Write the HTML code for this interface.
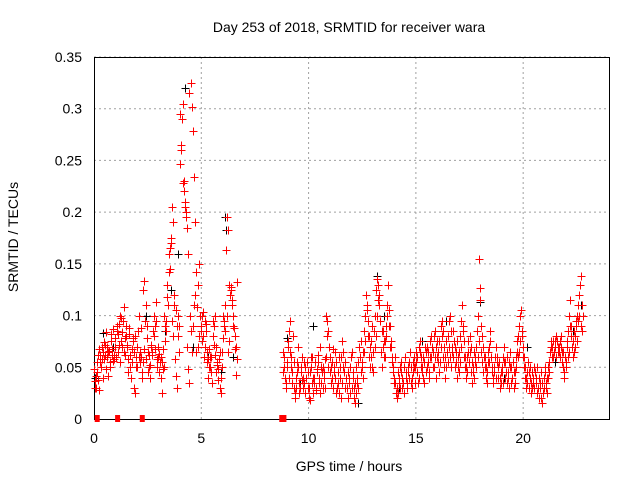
<!DOCTYPE html>
<html><head><meta charset="utf-8"><style>
body{margin:0;background:#fff}
svg{display:block;font-family:"Liberation Sans",sans-serif}
</style></head><body>
<svg id="chart" width="640" height="480">
<rect width="640" height="480" fill="#fff"/>
<g id="grid"></g>
<g id="axes"></g>
<g id="black"></g>
<g id="red"></g>
<text x="349" y="32" text-anchor="middle" font-size="14" fill="#000">Day 253 of 2018, SRMTID for receiver wara</text>
<text x="349" y="471" text-anchor="middle" font-size="14" fill="#000">GPS time / hours</text>
<text transform="translate(18,237) rotate(-90)" text-anchor="middle" font-size="14" fill="#000">SRMTID / TECUs</text>
</svg>
<script>
const xTicks=[0,5,10,15,20];
const yTicks=[0,0.05,0.1,0.15,0.2,0.25,0.3,0.35];
const yTickLabels=["0","0.05","0.1","0.15","0.2","0.25","0.3","0.35"];
const step=0.05;
const redStarts=[0,1,2,3,4,5,6,8.8,9.8,10.8,11.8,12.8,13.8,14.8,15.8,16.8,17.8,18.8,19.8,20.8,21.8];
const redLayer1=[
[.048,.037,.03,.045,.062,.028,.055,.07,.065,.058,.072,.084,.06,.042,.066,.05,.075,.062,.087,.058],
[.078,.085,.065,.092,.1,.075,.07,.095,.108,.062,.08,.072,.058,.088,.05,.068,.075,.03,.025,.06],
[.07,.085,.1,.055,.06,.045,.125,.133,.11,.09,.065,.05,.04,.07,.062,.085,.1,.09,.113,.058],
[.07,.063,.04,.055,.068,.05,.09,.095,.13,.11,.16,.145,.175,.205,.19,.12,.105,.09,.08,.065],
[.247,.265,.29,.305,.23,.21,.2,.185,.16,.315,.325,.302,.278,.234,.19,.142,.108,.13,.15,.1],
[.09,.075,.103,.095,.085,.065,.058,.05,.06,.045,.035,.08,.09,.1,.07,.055,.048,.03,.025,.065],
[.1,.095,.11,.163,.195,.183,.13,.12,.125,.115,.09,.08,.07,.132],
[.065,.05,.04,.035,.055,.07,.085,.095,.06,.045,.03,.025,.04,.055,.05,.035,.03,.045,.06,.04],
[.035,.05,.04,.03,.02,.045,.06,.035,.025,.04,.055,.03,.048,.062,.04,.025,.035,.05,.045,.03],
[.1,.095,.085,.07,.06,.05,.04,.03,.045,.065,.055,.035,.025,.05,.06,.075,.065,.045,.03,.04],
[.03,.02,.04,.05,.065,.04,.03,.015,.025,.035,.055,.07,.06,.045,.05,.065,.085,.1,.11,.095],
[.08,.07,.06,.05,.065,.085,.1,.125,.135,.13,.11,.095,.085,.07,.06,.075,.09,.11,.13,.105],
[.09,.075,.06,.05,.04,.035,.03,.025,.04,.05,.045,.03,.035,.05,.06,.04,.035,.045,.055,.05],
[.04,.055,.06,.05,.065,.045,.035,.07,.075,.06,.05,.04,.055,.065,.07,.055,.045,.06,.08,.07],
[.065,.08,.085,.07,.06,.055,.075,.09,.095,.085,.07,.06,.05,.065,.08,.095,.1,.085,.07,.06],
[.07,.055,.04,.05,.065,.08,.095,.11,.09,.075,.06,.05,.045,.065,.08,.07,.055,.045,.04,.06],
[.07,.085,.1,.155,.127,.09,.08,.07,.06,.05,.045,.055,.07,.085,.06,.05,.04,.045,.06,.07],
[.06,.05,.04,.035,.045,.06,.07,.055,.045,.035,.04,.055,.065,.05,.04,.03,.045,.06,.075,.08],
[.09,.1,.105,.085,.07,.06,.05,.04,.035,.045,.05,.035,.03,.04,.05,.045,.035,.025,.03,.04],
[.03,.02,.015,.03,.045,.035,.025,.04,.055,.065,.075,.07,.06,.065,.075,.08,.07,.065,.075,.07],
[.065,.05,.045,.06,.055,.07,.085,.1,.115,.09,.075,.065,.08,.095,.1,.11,.12,.13,.138,.11]];
const redLayer2=[
[.03,.042,.055,.038,.068,.062,.05,.058,.04,.074,.062,.048,.07,.065,.055,.082,.068,.056,.062,.07],
[.06,.09,.082,.072,.055,.098,.084,.065,.078,.09,.07,.045,.082,.062,.04,.055,.078,.065,.08,.05],
[.05,.06,.065,.088,.04,.055,.068,.095,.058,.078,.045,.062,.052,.072,.065,.08,.068,.095,.05,.06],
[.045,.055,.06,.025,.048,.1,.075,.085,.118,.142,.165,.17,.095,.08,.11,.058,.042,.03,.1,.09],
[.295,.26,.228,.22,.205,.195,.07,.048,.035,.1,.085,.065,.09,.11,.12,.065,.07,.08,.1,.085],
[.1,.08,.06,.07,.092,.055,.04,.068,.05,.06,.095,.072,.062,.045,.052,.038,.058,.065,.04,.05],
[.078,.09,.085,.1,.065,.075,.12,.128,.11,.1,.088,.068,.043,.058],
[.045,.06,.03,.05,.075,.04,.065,.05,.035,.08,.055,.02,.03,.045,.07,.025,.05,.038,.03,.055],
[.025,.04,.055,.045,.03,.018,.05,.06,.04,.035,.028,.045,.055,.035,.07,.05,.045,.03,.04,.058],
[.06,.08,.05,.045,.035,.055,.068,.05,.04,.025,.03,.045,.06,.04,.02,.035,.05,.055,.04,.03],
[.045,.035,.025,.06,.03,.045,.02,.035,.05,.04,.03,.06,.075,.055,.04,.065,.075,.12,.105,.08],
[.06,.05,.075,.09,.045,.07,.08,.1,.115,.12,.095,.065,.05,.085,.075,.06,.08,.1,.09,.07],
[.07,.055,.045,.035,.06,.025,.02,.045,.035,.03,.055,.04,.025,.06,.045,.03,.05,.04,.065,.035],
[.03,.045,.05,.035,.055,.06,.04,.065,.05,.045,.06,.035,.07,.045,.05,.065,.04,.075,.06,.05],
[.05,.06,.04,.075,.065,.045,.055,.07,.08,.06,.05,.04,.075,.055,.07,.06,.05,.065,.085,.075],
[.05,.065,.075,.06,.045,.055,.07,.085,.06,.05,.04,.06,.075,.055,.065,.045,.035,.05,.065,.055],
[.05,.06,.075,.115,.065,.055,.045,.06,.05,.04,.035,.065,.055,.075,.045,.035,.05,.06,.04,.055],
[.04,.055,.03,.045,.05,.035,.055,.04,.06,.045,.03,.05,.035,.04,.055,.045,.035,.05,.065,.06],
[.065,.075,.08,.06,.05,.04,.03,.045,.055,.03,.04,.025,.045,.035,.03,.04,.05,.03,.02,.035],
[.045,.035,.025,.04,.05,.03,.04,.05,.045,.07,.06,.075,.065,.07,.06,.075,.065,.07,.06,.08],
[.055,.065,.04,.05,.075,.06,.065,.09,.08,.07,.06,.085,.07,.09,.075,.095,.1,.09,.085,.1]];
const blackTimes=[0.05,0.4,0.9,1.5,2.4,3.3,3.6,3.9,4.05,4.25,4.3,4.6,5.3,5.9,6.1,6.15,6.5,9.0,9.6,10.2,11.4,12.3,13.2,13.5,14.2,15.3,16.4,17.3,18.0,19.1,20.2,21.5,22.3,22.7];
const blackValues=[0.04,0.083,0.07,0.09,0.1,0.085,0.125,0.16,0.26,0.32,0.2,0.07,0.06,0.045,0.195,0.183,0.06,0.078,0.035,0.09,0.06,0.015,0.138,0.1,0.03,0.075,0.095,0.06,0.113,0.04,0.07,0.055,0.085,0.11];
const zeroTimes=[0.15,1.1,2.25,8.75,8.85];

const X0=94,X1=609,Y0=419,Y1=57;
const xs=t=>X0+t/24*(X1-X0);
const ys=v=>Y0-v/0.35*(Y0-Y1);
const NS="http://www.w3.org/2000/svg";
function mk(tag,attrs,parent){const e=document.createElementNS(NS,tag);for(const k in attrs)e.setAttribute(k,attrs[k]);parent.appendChild(e);return e;}
const grid=document.getElementById('grid'),axes=document.getElementById('axes');
xTicks.forEach(t=>{
  if(t>0){const l=mk('line',{x1:xs(t),x2:xs(t),y1:Y0,y2:Y1,stroke:'#a0a0a0','stroke-dasharray':'2,3','stroke-width':1},grid);
  
  }
  const tk=mk('text',{x:xs(t),y:Y0+24,'text-anchor':'middle','font-size':14,fill:'#000'},axes);tk.textContent=t;
  
  
});
yTicks.forEach((v,i)=>{
  if(i>0){const l=mk('line',{x1:X0,x2:X1,y1:ys(v),y2:ys(v),stroke:'#a0a0a0','stroke-dasharray':'2,3','stroke-width':1},grid);
  
  }
  const tk=mk('text',{x:X0-12,y:ys(v)+5,'text-anchor':'end','font-size':14,fill:'#000'},axes);tk.textContent=yTickLabels[i];
  
  
});
const fr=mk('rect',{x:X0+0.5,y:Y1+0.5,width:X1-X0,height:Y0-Y1,fill:'none',stroke:'#000','stroke-width':1},axes);


function plus(g,t,v,c,name){
  const x=Math.round(xs(t))+0.5,y=Math.round(ys(v))+0.5;
  const p=mk('path',{d:`M${x-4},${y}H${x+4}M${x},${y-4}V${y+4}`,stroke:c,'stroke-width':1,fill:'none'},g);
  
  
}
const bg=document.getElementById('black'),rg=document.getElementById('red');
blackTimes.forEach((t,i)=>plus(bg,t,blackValues[i],'#000','black-point'));
redStarts.forEach((s,b)=>{
  redLayer1[b].forEach((v,i)=>plus(rg,s+i*step,v,'#f00','red-point'));
  redLayer2[b].forEach((v,i)=>plus(rg,s+i*step+0.025,v,'#f00','red-point'));
});
zeroTimes.forEach(t=>{
  const r=mk('rect',{x:xs(t)-2.5,y:Y0-4,width:5,height:7,fill:'#f00'},rg);
  
  
});
</script>
</body></html>
